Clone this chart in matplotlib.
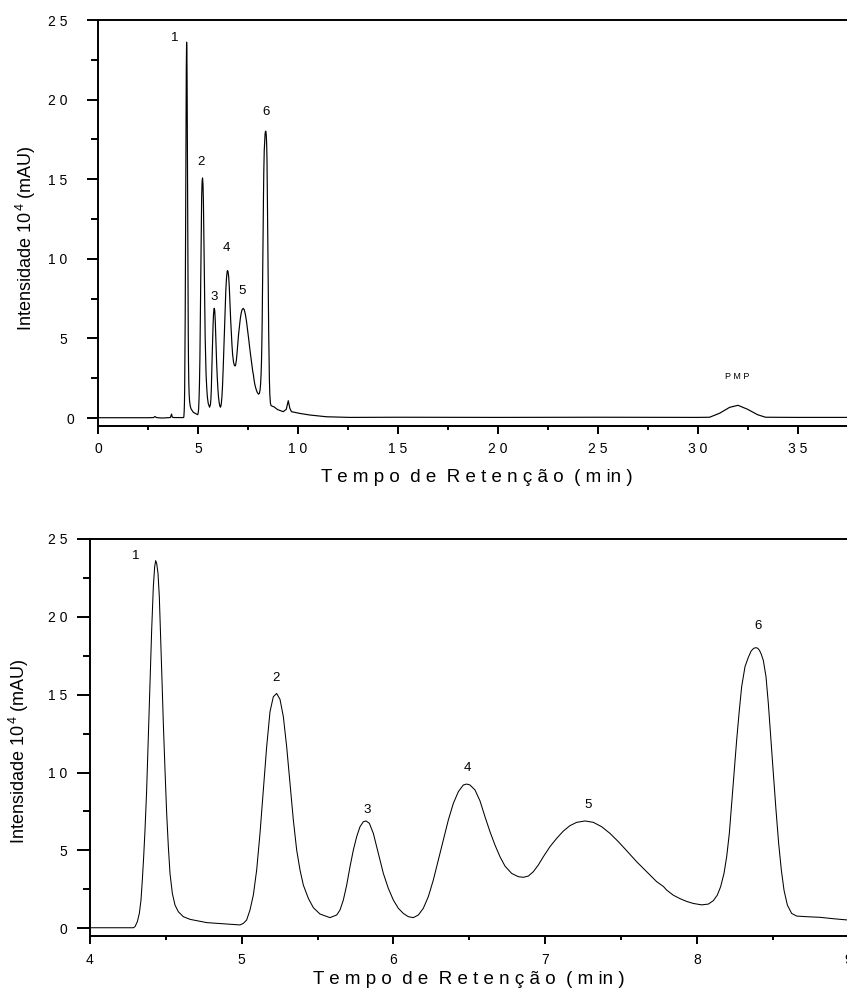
import matplotlib
matplotlib.use("Agg")
import matplotlib.pyplot as plt
from matplotlib.ticker import FixedLocator, MultipleLocator, FuncFormatter
from matplotlib.transforms import ScaledTranslation

plt.rcParams['font.family'] = ['Liberation Sans', 'DejaVu Sans']
plt.rcParams['mathtext.fontset'] = 'custom'
plt.rcParams['mathtext.rm'] = 'Liberation Sans'
plt.rcParams['mathtext.it'] = 'Liberation Sans'

# ---- data (time in min, intensity x10^4 mAU) ----
time_min = [0.0, 1.0, 2.5, 2.78, 2.85, 2.92, 3.2, 3.62, 3.68, 3.72, 3.8, 4.0, 4.2,
            4.2857, 4.2966, 4.3120, 4.3252, 4.3362, 4.3450, 4.3538, 4.3626, 4.3735,
            4.3845, 4.3955, 4.4065, 4.4175, 4.4263, 4.4329, 4.4395, 4.4483, 4.4570,
            4.4658, 4.4746, 4.4834, 4.4944, 4.5054, 4.5164, 4.5274, 4.5427, 4.5603,
            4.5823, 4.6152, 4.6592, 4.7691, 4.9229, 4.9888, 5.0108, 5.0327, 5.0547,
            5.0767, 5.0987, 5.1206, 5.1426, 5.1646, 5.1866, 5.2085, 5.2305, 5.2525,
            5.2745, 5.2964, 5.3184, 5.3404, 5.3624, 5.3843, 5.4063, 5.4393, 5.4722,
            5.5162, 5.5821, 5.6261, 5.6480, 5.6700, 5.6920, 5.7139, 5.7359, 5.7579,
            5.7799, 5.8018, 5.8194, 5.8414, 5.8678, 5.9007, 5.9337, 5.9666, 5.9996,
            6.0325, 6.0655, 6.0985, 6.1314, 6.1644, 6.1973, 6.2303, 6.2633, 6.2962,
            6.3292, 6.3621, 6.3951, 6.4281, 6.4610, 6.4830, 6.5049, 6.5379, 6.5708,
            6.6038, 6.6367, 6.6697, 6.7027, 6.7356, 6.7796, 6.8235, 6.8565, 6.8894,
            6.9224, 6.9553, 6.9883, 7.0322, 7.0762, 7.1201, 7.1641, 7.2080, 7.2630,
            7.3179, 7.3728, 7.4278, 7.4827, 7.5376, 7.6036, 7.6695, 7.7354, 7.7800,
            7.8013, 7.8453, 7.8892, 7.9332, 7.9771, 8.0321, 8.0760, 8.1090, 8.1353,
            8.1573, 8.1793, 8.1969, 8.2144, 8.2298, 8.2452, 8.2628, 8.2804, 8.2957,
            8.3177, 8.3397, 8.3580, 8.3750, 8.3900, 8.4020, 8.4130, 8.4250, 8.4386,
            8.4562, 8.4715, 8.4869, 8.5045, 8.5221, 8.5396, 8.5572, 8.5748, 8.5968,
            8.6253, 8.6583, 8.7242, 8.8121, 8.9000, 8.9879,
            9.27, 9.42, 9.52, 9.60, 9.68, 10.1, 10.6, 11.43, 12.6, 15.0, 20.0,
            25.0, 30.0, 30.6, 31.1, 31.6, 32.02, 32.5, 33.0, 33.4, 35.0, 37.5]
intensity = [0.02, 0.02, 0.02, 0.03, 0.10, 0.03, 0.00, 0.03, 0.25, 0.05, 0.03, 0.03, 0.03,
             0.03, 0.10, 0.42, 0.95, 1.81, 3.10, 4.59, 6.31, 8.88,
             12.30, 15.73, 19.15, 21.94, 23.22, 23.61, 23.43, 22.79, 21.29,
             18.72, 15.94, 13.16, 10.16, 7.38, 5.24, 3.52, 2.24, 1.49,
             1.06, 0.74, 0.57, 0.36, 0.25, 0.21, 0.31, 0.53, 1.17,
             2.13, 3.74, 6.09, 8.88, 11.66, 13.91, 14.87, 15.08, 14.70,
             13.59, 11.66, 9.30, 6.95, 5.02, 3.74, 2.77, 1.92, 1.32,
             0.91, 0.68, 0.85, 1.17, 1.81, 2.77, 3.95, 5.02, 5.88,
             6.52, 6.84, 6.89, 6.74, 6.09, 4.81, 3.52, 2.56, 1.81,
             1.28, 0.95, 0.74, 0.68, 0.85, 1.28, 2.03, 3.10, 4.38,
             5.66, 6.95, 8.02, 8.77, 9.20, 9.26, 9.20, 8.88, 8.18,
             7.16, 6.20, 5.34, 4.59, 3.99, 3.52, 3.31, 3.27, 3.35,
             3.63, 4.06, 4.59, 5.24, 5.77, 6.24, 6.59, 6.80, 6.89,
             6.80, 6.52, 6.09, 5.56, 4.98, 4.27, 3.63, 2.99, 2.68,
             2.45, 2.12, 1.90, 1.72, 1.59, 1.50, 1.55, 1.77, 2.13,
             2.67, 3.52, 4.59, 6.09, 8.02, 9.95, 12.09, 14.01, 15.51,
             16.80, 17.40, 17.80, 17.98, 18.02, 17.98, 17.85, 17.60, 17.20,
             16.15, 14.44, 12.30, 9.95, 7.59, 5.45, 3.74, 2.45, 1.49,
             0.95, 0.78, 0.74, 0.70, 0.61, 0.53,
             0.40, 0.55, 1.09, 0.60, 0.40, 0.29, 0.19, 0.08, 0.04, 0.05, 0.04,
             0.05, 0.04, 0.05, 0.30, 0.67, 0.80, 0.55, 0.21, 0.05, 0.04, 0.04]

peak_labels = ['1', '2', '3', '4', '5', '6']
top_label_t = [3.85, 5.13, 5.83, 6.43, 7.21, 8.40]
top_label_i = [23.9, 16.1, 7.6, 10.7, 8.0, 19.2]
bot_label_t = [4.303, 5.226, 5.828, 6.487, 7.285, 8.401]
bot_label_i = [23.9, 16.1, 7.6, 10.3, 7.9, 19.4]
pmp_label = 'P M P'
pmp_t, pmp_i = 32.0, 2.6

y_major = [0, 5, 10, 15, 20, 25]
xlabel = 'T e m p o  d e  R e t e n ç ã o  ( m in )'
ylabel = 'Intensidade 10$^{\\,4}$ (mAU)'

W, H = 847, 998
fig = plt.figure(figsize=(W / 100, H / 100), dpi=100)
fig.patch.set_facecolor('white')


def spaced(v, pos=None):
    return ' '.join(str(int(round(v))))


def style(ax, xmaj, xmin, ytick_len, ytick_pad, xpad):
    for s in ['left', 'bottom', 'top']:
        ax.spines[s].set_linewidth(1.4)
        ax.spines[s].set_color('black')
    ax.spines['right'].set_visible(False)
    ax.yaxis.set_major_locator(FixedLocator(y_major))
    ax.yaxis.set_minor_locator(MultipleLocator(2.5))
    ax.xaxis.set_major_locator(MultipleLocator(xmaj))
    ax.xaxis.set_minor_locator(MultipleLocator(xmin))
    ax.xaxis.set_major_formatter(FuncFormatter(spaced))
    ax.yaxis.set_major_formatter(FuncFormatter(spaced))
    ax.tick_params(axis='both', which='both', direction='out', top=False, right=False,
                   width=1.4, colors='black', labelsize=10)
    ax.tick_params(axis='x', which='major', length=5.8, pad=xpad)
    ax.tick_params(axis='x', which='minor', length=2.9)
    ax.tick_params(axis='y', which='major', length=ytick_len, pad=ytick_pad)
    ax.tick_params(axis='y', which='minor', length=4.8)


# ---- top panel: full run ----
ax1 = fig.add_axes([98 / W, (H - 426) / H, 749.5 / W, 406 / H])
ax1.plot(time_min, intensity, color='black', lw=0.85)
ax1.set_xlim(0, 37.5)
ax1.set_ylim(-0.5, 25)
style(ax1, 5, 2.5, 7.9, 14.4, 5.5)
for lab, t, i in zip(peak_labels, top_label_t, top_label_i):
    ax1.text(t, i, lab, ha='center', va='center', fontsize=9.5)
ax1.text(pmp_t, pmp_i, pmp_label, ha='center', va='center', fontsize=6.5)
ax1.set_xlabel(xlabel, fontsize=13.5)
ax1.xaxis.set_label_coords(0.506, -0.106)
ax1.set_ylabel(ylabel, fontsize=13)
ax1.yaxis.set_label_coords(-0.0800, 0.462)

# ---- bottom panel: zoom 4-9 min ----
ax2 = fig.add_axes([90 / W, (H - 936) / H, 758.5 / W, 397 / H])
ax2.plot(time_min, intensity, color='black', lw=0.75)
ax2.set_xlim(4, 9)
ax2.set_ylim(-0.5, 25)
style(ax2, 1, 0.5, 9.2, 7.2, 6.7)
for lab, t, i in zip(peak_labels, bot_label_t, bot_label_i):
    ax2.text(t, i, lab, ha='center', va='center', fontsize=9.5)
ax2.set_xlabel(xlabel, fontsize=13.5)
ax2.xaxis.set_label_coords(0.50, -0.088)
ax2.set_ylabel(ylabel, fontsize=13)
ax2.yaxis.set_label_coords(-0.078, 0.465)

# the zero label of the upper panel sits a little to the right in the original
fig.canvas.draw()
zero_tick = ax1.yaxis.get_major_ticks()[0]
zero_tick.label1.set_transform(zero_tick.label1.get_transform()
                               + ScaledTranslation(7 / 100, 0, fig.dpi_scale_trans))

fig.savefig('out.png', dpi=100, facecolor='white')
